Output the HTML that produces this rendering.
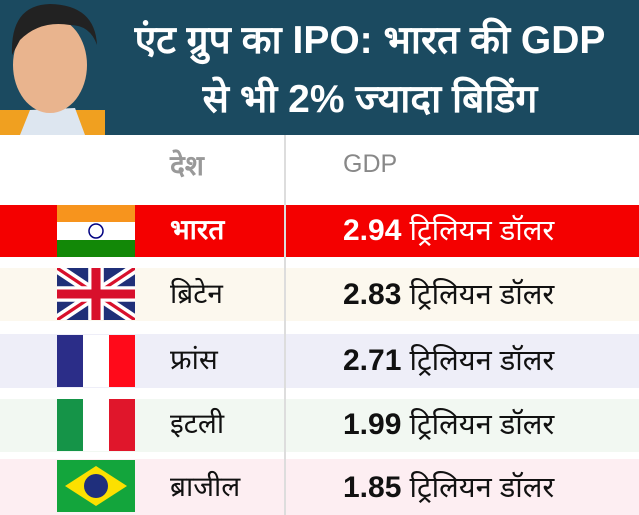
<!DOCTYPE html>
<html><head><meta charset="utf-8"><style>
body{margin:0;width:639px;height:515px;overflow:hidden;background:#fff;font-family:"Liberation Sans",sans-serif;position:relative}
.a{position:absolute}
.hdr{left:0;top:0;width:639px;height:135px;background:#1b4a60}
.t{color:#fff;font-weight:bold;font-size:39px;text-align:center;left:110px;width:520px;line-height:52px;white-space:nowrap}
.row{left:0;width:639px}
.name{left:170px;font-size:28px;color:#111}
.gdp{left:343px;font-size:29px;color:#111;white-space:nowrap}
.gdp b{font-size:30px}
.flag{left:57px;width:78px;height:52px}
</style></head><body>
<div class="a hdr"></div>
<svg class="a" style="left:0;top:0" width="110" height="135">
<rect x="0" y="110" width="105" height="25" fill="#f0a020"/>
<path d="M20 135 L30 110 L75 108 L85 135Z" fill="#dde6f0"/>
<ellipse cx="50" cy="65" rx="37" ry="48" fill="#e9b48e"/>
<path d="M12 55 Q10 5 50 4 Q95 5 97 45 Q90 25 70 25 Q40 20 20 40Z" fill="#222"/>
</svg>
<div class="a t" style="top:15px">एंट ग्रुप का IPO: भारत की GDP</div>
<div class="a t" style="top:74px">से भी 2% ज्यादा बिडिंग</div>
<div class="a" style="left:170px;top:146px;font-size:28px;color:#999;font-weight:bold">देश</div>
<div class="a" style="left:343px;top:150px;font-size:25px;color:#888">GDP</div>

<div class="a row" style="top:205px;height:52px;background:#f40000"></div>
<div class="a row" style="top:268px;height:53px;background:#fcf8ee"></div>
<div class="a row" style="top:334px;height:54px;background:#eeeef8"></div>
<div class="a row" style="top:399px;height:53px;background:#f2f8f2"></div>
<div class="a row" style="top:459px;height:56px;background:#fdeef2"></div>
<div class="a" style="left:284px;top:135px;width:2px;height:380px;background:#ddd"></div>

<svg class="a flag" style="top:205px" viewBox="0 0 78 52"><rect width="78" height="17" fill="#f7941d"/><rect y="17" width="78" height="18" fill="#fff"/><rect y="35" width="78" height="17" fill="#128807"/><circle cx="39" cy="26" r="7" fill="none" stroke="#000080" stroke-width="1.5"/></svg>
<svg class="a flag" style="top:268px" viewBox="0 0 60 40" preserveAspectRatio="none"><rect width="60" height="40" fill="#1f2f78"/><path d="M0 0L60 40M60 0L0 40" stroke="#fff" stroke-width="8"/><path d="M0 0L60 40M60 0L0 40" stroke="#d8102c" stroke-width="2.5"/><path d="M30 0V40M0 20H60" stroke="#fff" stroke-width="12"/><path d="M30 0V40M0 20H60" stroke="#d8102c" stroke-width="7"/></svg>
<svg class="a flag" style="top:335px" viewBox="0 0 78 52"><rect width="26" height="52" fill="#2b2d88"/><rect x="26" width="26" height="52" fill="#fff"/><rect x="52" width="26" height="52" fill="#ff0a1a"/></svg>
<svg class="a flag" style="top:399px" viewBox="0 0 78 52"><rect width="26" height="52" fill="#159448"/><rect x="26" width="26" height="52" fill="#fff"/><rect x="52" width="26" height="52" fill="#e0162b"/></svg>
<svg class="a flag" style="top:460px" viewBox="0 0 78 52"><rect width="78" height="52" fill="#13a53c"/><path d="M8 26L39 6L70 26L39 46Z" fill="#fce000"/><circle cx="39" cy="26" r="12" fill="#1f2f7c"/></svg>

<div class="a name" style="top:210px;color:#fff;font-weight:bold">भारत</div>
<div class="a name" style="top:274px">ब्रिटेन</div>
<div class="a name" style="top:340px">फ्रांस</div>
<div class="a name" style="top:404px">इटली</div>
<div class="a name" style="top:467px">ब्राजील</div>

<div class="a gdp" style="top:210px;color:#fff"><b>2.94</b> ट्रिलियन डॉलर</div>
<div class="a gdp" style="top:274px"><b>2.83</b> ट्रिलियन डॉलर</div>
<div class="a gdp" style="top:340px"><b>2.71</b> ट्रिलियन डॉलर</div>
<div class="a gdp" style="top:404px"><b>1.99</b> ट्रिलियन डॉलर</div>
<div class="a gdp" style="top:467px"><b>1.85</b> ट्रिलियन डॉलर</div>
</body></html>
